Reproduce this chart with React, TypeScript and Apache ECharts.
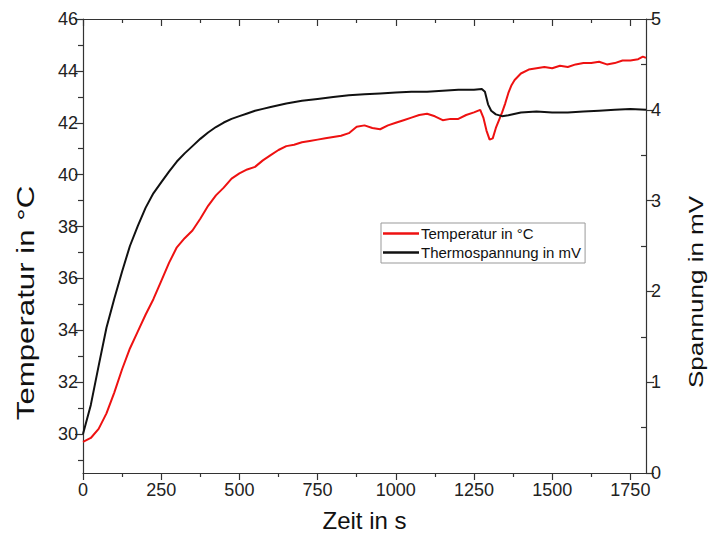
import React, { useEffect, useRef } from "react";
import * as echarts from "echarts";

// Time (s) and temperature (°C)
const tempTime = [0, 25, 50, 75, 100, 125, 150, 175, 200, 225, 250, 275, 300, 325, 350, 375, 400, 425, 450, 475, 500, 525, 550, 575, 600, 625, 650, 675, 700, 725, 750, 775, 800, 825, 850, 875, 900, 925, 950, 975, 1000, 1025, 1050, 1075, 1100, 1125, 1150, 1175, 1200, 1225, 1250, 1270, 1280, 1290, 1300, 1310, 1320, 1330, 1340, 1350, 1360, 1370, 1380, 1400, 1425, 1450, 1475, 1500, 1525, 1550, 1575, 1600, 1625, 1650, 1675, 1700, 1725, 1750, 1775, 1790, 1800];
const tempValues = [29.7, 29.85, 30.2, 30.8, 31.6, 32.5, 33.3, 33.95, 34.6, 35.2, 35.9, 36.6, 37.2, 37.55, 37.85, 38.3, 38.8, 39.2, 39.5, 39.85, 40.05, 40.2, 40.3, 40.55, 40.75, 40.95, 41.1, 41.15, 41.25, 41.3, 41.35, 41.4, 41.45, 41.5, 41.6, 41.85, 41.9, 41.8, 41.75, 41.9, 42.0, 42.1, 42.2, 42.3, 42.35, 42.25, 42.1, 42.15, 42.15, 42.3, 42.4, 42.5, 42.2, 41.7, 41.35, 41.4, 41.8, 42.1, 42.4, 42.75, 43.15, 43.45, 43.65, 43.9, 44.05, 44.1, 44.15, 44.1, 44.2, 44.15, 44.25, 44.3, 44.3, 44.35, 44.25, 44.3, 44.4, 44.4, 44.45, 44.55, 44.5];

// Time (s) and thermo voltage (mV)
const voltTime = [0, 25, 50, 75, 100, 125, 150, 175, 200, 225, 250, 275, 300, 325, 350, 375, 400, 425, 450, 475, 500, 525, 550, 575, 600, 650, 700, 750, 800, 850, 900, 950, 1000, 1050, 1100, 1150, 1200, 1250, 1275, 1285, 1295, 1305, 1320, 1340, 1360, 1400, 1450, 1500, 1550, 1600, 1650, 1700, 1750, 1800];
const voltValues = [0.43, 0.75, 1.18, 1.6, 1.92, 2.22, 2.5, 2.72, 2.92, 3.08, 3.2, 3.32, 3.43, 3.52, 3.6, 3.68, 3.75, 3.81, 3.86, 3.9, 3.93, 3.96, 3.99, 4.01, 4.03, 4.07, 4.1, 4.12, 4.14, 4.16, 4.17, 4.18, 4.19, 4.2, 4.2, 4.21, 4.22, 4.22, 4.23, 4.2, 4.06, 3.99, 3.95, 3.93, 3.94, 3.97, 3.98, 3.97, 3.97, 3.98, 3.99, 4.0, 4.01, 4.0];

// Tick values
const xMajorTicks = [0, 250, 500, 750, 1000, 1250, 1500, 1750];
const xMinorTicks = [125, 375, 625, 875, 1125, 1375, 1625];
const tempMajorTicks = [30, 32, 34, 36, 38, 40, 42, 44, 46];
const tempMinorTicks = [29, 31, 33, 35, 37, 39, 41, 43, 45];
const voltMajorTicks = [0, 1, 2, 3, 4, 5];
const voltMinorTicks = [0.5, 1.5, 2.5, 3.5, 4.5];

const seriesNames = ["Temperatur in °C", "Thermospannung in mV"];
const xTitle = "Zeit in s";
const yLeftTitle = "Temperatur in °C";
const yRightTitle = "Spannung in mV";

const FONT = "Liberation Sans, Arial, sans-serif";
const AXIS_COLOR = "#333";
const plain = (v: number) => String(v);

export default function App() {
  const ref = useRef<HTMLDivElement>(null);

  useEffect(() => {
    if (!ref.current) return;
    const chart = echarts.init(ref.current, null, { renderer: "svg" });
    const lineAxis = { show: true, onZero: false, lineStyle: { color: AXIS_COLOR, width: 1.2 } };
    const noLine = { show: false, onZero: false };
    const xBase = { type: "value", min: 0, max: 1800, splitLine: { show: false } };
    const tBase = { type: "value", min: 28.5, max: 46, splitLine: { show: false } };
    const vBase = { type: "value", min: 0, max: 5, splitLine: { show: false } };
    const tick = (vals: number[], len: number, inside = false) => ({
      show: true,
      inside,
      customValues: vals,
      length: len,
      lineStyle: { color: AXIS_COLOR, width: 1.2 },
    });
    const option: any = {
      animation: false,
      textStyle: { fontFamily: FONT },
      grid: { left: 83, top: 19, width: 563, height: 454, containLabel: false },
      legend: {
        orient: "vertical",
        left: 381,
        top: 223,
        data: seriesNames,
        icon: "rect",
        itemWidth: 36,
        itemHeight: 2.5,
        itemGap: 4,
        padding: [3, 4, 3, 2],
        borderColor: "#999",
        borderWidth: 1,
        textStyle: { fontFamily: FONT, fontSize: 15, color: "#111", padding: [0, 0, 0, -3] },
      },
      graphic: [
        {
          type: "text",
          x: 26,
          y: 303,
          rotation: Math.PI / 2,
          scaleX: 1.3,
          style: {
            text: yLeftTitle,
            fontSize: 24,
            fontFamily: FONT,
            fill: "#111",
            align: "center",
            verticalAlign: "middle",
          },
        },
        {
          type: "text",
          x: 696,
          y: 292,
          rotation: Math.PI / 2,
          scaleX: 1.3,
          style: {
            text: yRightTitle,
            fontSize: 20,
            fontFamily: FONT,
            fill: "#111",
            align: "center",
            verticalAlign: "middle",
          },
        },
      ],
      xAxis: [
        {
          ...xBase,
          position: "bottom",
          axisLine: lineAxis,
          axisTick: tick(xMajorTicks, 7),
          axisLabel: { customValues: xMajorTicks, formatter: plain, fontSize: 18, color: "#222", margin: 8, fontFamily: FONT },
          name: xTitle,
          nameLocation: "middle",
          nameGap: 35,
          nameTextStyle: { fontSize: 24, color: "#111", fontFamily: FONT },
        },
        { ...xBase, position: "bottom", axisLine: noLine, axisTick: tick(xMinorTicks, 4), axisLabel: { show: false } },
        { ...xBase, position: "top", axisLine: lineAxis, axisTick: tick(xMajorTicks, 7, true), axisLabel: { show: false } },
        { ...xBase, position: "top", axisLine: noLine, axisTick: tick(xMinorTicks, 4, true), axisLabel: { show: false } },
      ],
      yAxis: [
        {
          ...tBase,
          position: "left",
          axisLine: lineAxis,
          axisTick: tick(tempMajorTicks, 8),
          axisLabel: { customValues: tempMajorTicks, formatter: plain, fontSize: 18, color: "#222", margin: 5, fontFamily: FONT },
        },
        { ...tBase, position: "left", axisLine: noLine, axisTick: tick(tempMinorTicks, 5), axisLabel: { show: false } },
        {
          ...vBase,
          position: "right",
          axisLine: lineAxis,
          axisTick: tick(voltMajorTicks, 8),
          axisLabel: { customValues: voltMajorTicks, formatter: plain, fontSize: 18, color: "#222", margin: 5, fontFamily: FONT },
        },
        { ...vBase, position: "right", axisLine: noLine, axisTick: tick(voltMinorTicks, 5, true), axisLabel: { show: false } },
      ],
      series: [
        {
          name: seriesNames[0],
          type: "line",
          xAxisIndex: 0,
          yAxisIndex: 0,
          data: tempTime.map((t, i) => [t, tempValues[i]]),
          showSymbol: false,
          symbol: "none",
          color: "#ee1111",
          lineStyle: { color: "#ee1111", width: 2 },
        },
        {
          name: seriesNames[1],
          type: "line",
          xAxisIndex: 0,
          yAxisIndex: 2,
          data: voltTime.map((t, i) => [t, voltValues[i]]),
          showSymbol: false,
          symbol: "none",
          color: "#111111",
          lineStyle: { color: "#111111", width: 2 },
        },
      ],
    };
    chart.setOption(option);
    return () => chart.dispose();
  }, []);

  return (
    <div
      ref={ref}
      style={{ position: "fixed", left: 0, top: 0, width: 710, height: 539, background: "#fff" }}
    />
  );
}
